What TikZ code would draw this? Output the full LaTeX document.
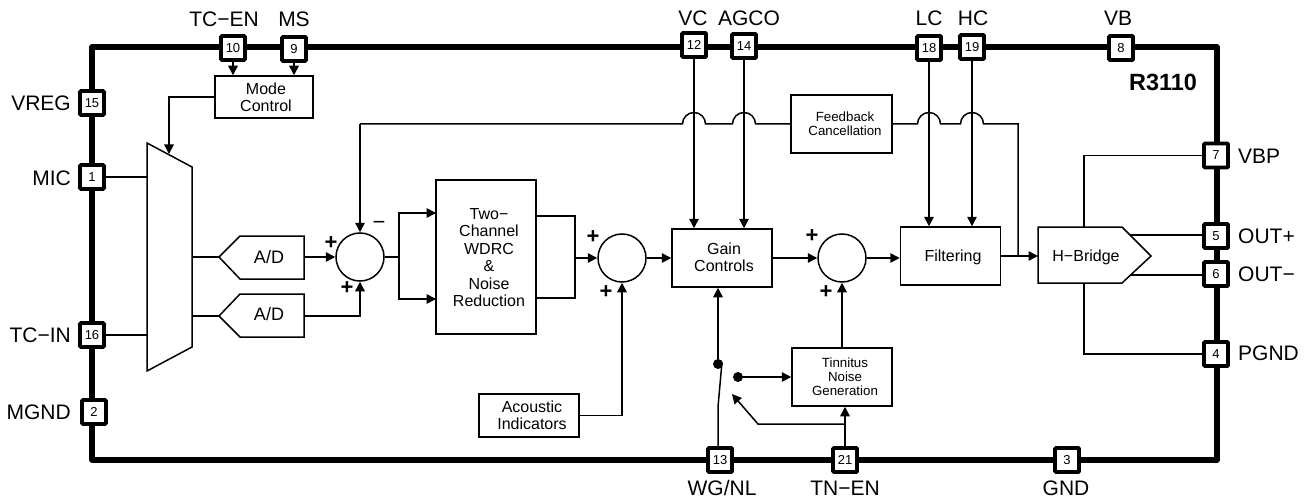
\documentclass[tikz,border=0pt]{standalone}
\usepackage{fontspec}
\setmainfont{Liberation Sans}
\usetikzlibrary{arrows.meta,calc}
\tikzset{
  bus/.style={line width=5.7pt,line join=round},
  pin/.style={draw,fill=white,line width=3.6pt,rounded corners=0.8pt,minimum size=24pt,inner sep=0pt,font=\fontsize{13}{14}\selectfont},
  wire/.style={line width=1.5pt},
  arrowwire/.style={wire,-{Triangle[length=9.5pt,width=9.5pt]}},
  blockbox/.style={draw,line width=1.5pt,fill=white,inner sep=0pt},
  outline/.style={draw,line width=1.5pt,fill=white,line join=miter},
  sumnode/.style={circle,draw,line width=1.5pt,minimum size=48pt,inner sep=0pt},
  plab/.style={font=\fontsize{21}{23}\selectfont,inner sep=0pt},
  txt/.style={font=\fontsize{16}{17.4}\selectfont,align=center,inner sep=0pt},
  smalltxt/.style={font=\fontsize{13.3}{14}\selectfont,align=center,inner sep=0pt},
  sign/.style={font=\bfseries\fontsize{22}{23}\selectfont,inner sep=0pt},
  dot/.style={circle,fill=black,minimum size=10pt,inner sep=0pt},
}
\begin{document}
\begin{tikzpicture}[x=1pt,y=-1pt]
\useasboundingbox (0,0) rectangle (1307,500);
\fill[white] (0,0) rectangle (1307,500);
% outer bus
\coordinate (tl) at (92,47);
\coordinate (tr) at (1217,47);
\coordinate (br) at (1217,460);
\coordinate (bl) at (92,460);
\draw[bus] (tl) -- (tr) -- (br) -- (bl) -- cycle;
% blocks
\node[blockbox,minimum width=98pt,minimum height=42pt] (mode) at (264,97) {};
\node[blockbox,minimum width=100pt,minimum height=154pt] (wdrc) at (486,257) {};
\node[blockbox,minimum width=100pt,minimum height=58pt] (gain) at (722,258) {};
\node[blockbox,minimum width=100pt,minimum height=58pt] (filt) at (950.5,256) {};
\node[blockbox,minimum width=101pt,minimum height=58pt] (fb) at (841.5,124) {};
\node[blockbox,minimum width=100pt,minimum height=58pt] (tinn) at (842,377) {};
\node[blockbox,minimum width=100pt,minimum height=43pt] (acou) at (529,415.5) {};
\node[sumnode] (sumA) at (360,257) {};
\node[sumnode] (sumB) at (622,258) {};
\node[sumnode] (sumC) at (842,258) {};
% polygons
\coordinate (muxA) at (147,143);
\coordinate (muxB) at (192,167);
\coordinate (muxC) at (192,347);
\coordinate (muxD) at (147,371);
\coordinate (muxIn) at (169,154);
\draw[outline] (muxA) -- (muxB) -- (muxC) -- (muxD) -- cycle;
\coordinate (adAt) at (219,257);
\coordinate (adAr) at (304,257);
\draw[outline] (adAt) -- (240,236) -- (304,236) -- (304,279) -- (240,279) -- cycle;
\coordinate (adBt) at (219,316);
\coordinate (adBr) at (304,316);
\draw[outline] (adBt) -- (240,294) -- (304,294) -- (304,337) -- (240,337) -- cycle;
\coordinate (hbL) at (1038,256);
\coordinate (hbT) at (1084,227);
\coordinate (hbB) at (1084,283);
\coordinate (hbPu) at (1130,235);
\coordinate (hbPd) at (1130,275);
\draw[outline] (1038,227) -- (1122,227) -- (1151,256) -- (1122,283) -- (1038,283) -- cycle;
% pins
\foreach \n/\px/\py in {10/233/48,9/294/49,15/92/103,1/92/177,16/92/335,2/94/412,12/694/45,14/744/46,18/929/48,19/972/47,8/1121/48,7/1216/155.5,5/1216/236,6/1216/274,4/1216/354,3/1067/460,13/720/460,21/845/460}
  \node[pin] (p\n) at (\px,\py) {\n};
% pin labels
\node[plab] (lTCEN) at (224,19) {TC−EN};
\node[plab] (lMS) at (294,19) {MS};
\node[plab] (lVC) at (693,18) {VC};
\node[plab] (lAGCO) at (749,18) {AGCO};
\node[plab] (lLC) at (929,18) {LC};
\node[plab] (lHC) at (973,18) {HC};
\node[plab] (lVB) at (1118,18) {VB};
\node[plab,anchor=east] (lVREG) at (71,103) {VREG};
\node[plab,anchor=east] (lMIC) at (71,178) {MIC};
\node[plab,anchor=east] (lTCIN) at (71,335) {TC−IN};
\node[plab,anchor=east] (lMGND) at (71,412) {MGND};
\node[plab,anchor=west] (lVBP) at (1238,156) {VBP};
\node[plab,anchor=west] (lOUTp) at (1238,236) {OUT+};
\node[plab,anchor=west] (lOUTm) at (1238,274) {OUT−};
\node[plab,anchor=west] (lPGND) at (1238,353) {PGND};
\node[plab] (lWG) at (722,488) {WG/NL};
\node[plab] (lTN) at (845,488) {TN−EN};
\node[plab] (lGND) at (1066,488) {GND};
\node[inner sep=0pt,font=\bfseries\fontsize{23.5}{25}\selectfont] (chip) at (1163,82) {R3110};
% block texts
\node[txt] (tMode) at (266,97) {Mode\\Control};
\node[txt] (tWdrc) at (489,257.5) {Two−\\Channel\\WDRC\\\&\\Noise\\Reduction};
\node[txt] (tGain) at (724,257) {Gain\\Controls};
\node[txt] (tFilt) at (953,257) {Filtering};
\node[txt] (tHb) at (1086,257) {H−Bridge};
\node[txt] (tAcou) at (532,415.5) {Acoustic\\Indicators};
\node[smalltxt] (tFb) at (845,124) {Feedback\\Cancellation};
\node[smalltxt] (tTinn) at (845,377) {Tinnitus\\Noise\\Generation};
\node[inner sep=0pt,font=\fontsize{18}{20}\selectfont] (tAdA) at (269,257) {A/D};
\node[inner sep=0pt,font=\fontsize{18}{20}\selectfont] (tAdB) at (269,314) {A/D};
% signs
\node[sign] (sA1) at (331,243) {+};
\node[inner sep=0pt,font=\fontsize{22}{23}\selectfont] (sA2) at (379,225) {−};
\node[sign] (sA3) at (347,288) {+};
\node[sign] (sB1) at (593,237) {+};
\node[sign] (sB2) at (606,292) {+};
\node[sign] (sC1) at (812,236) {+};
\node[sign] (sC2) at (826,292) {+};
% connectors: top pins
\draw[arrowwire] (p10.south) -- (p10 |- mode.north);
\draw[arrowwire] (p9.south) -- (p9 |- mode.north);
\draw[arrowwire] (mode.west) -| (muxIn);
\draw[arrowwire] (p12.south) -- (p12 |- gain.north);
\draw[arrowwire] (p14.south) -- (p14 |- gain.north);
\draw[arrowwire] (p18.south) -- (p18 |- filt.north);
\draw[arrowwire] (p19.south) -- (p19 |- filt.north);
% left pins
\draw[wire] (p1.east) -- (p1 -| muxA);
\draw[wire] (p16.east) -- (p16 -| muxA);
\draw[wire] (adAt -| muxB) -- (adAt);
\draw[wire] (adBt -| muxB) -- (adBt);
% summing
\draw[arrowwire] (adAr) -- (sumA.west);
\draw[arrowwire] (adBr) -| (sumA.south);
\coordinate (splitA) at (399,257);
\coordinate (wdrcU) at (436,213);
\coordinate (wdrcD) at (436,299);
\draw[wire] (sumA.east) -- (splitA);
\draw[arrowwire] (splitA) |- (wdrcU);
\draw[arrowwire] (splitA) |- (wdrcD);
\coordinate (wdrcOU) at (536,216);
\coordinate (wdrcOD) at (536,298);
\coordinate (joinB) at (575,258);
\draw[wire] (wdrcOU) -| (joinB) |- (wdrcOD);
\draw[arrowwire] (joinB) -- (sumB.west);
\draw[arrowwire] (sumB.east) -- (sumB.east -| gain.west);
\draw[arrowwire] (acou.east) -| (sumB.south);
\draw[arrowwire] (gain.east |- sumC) -- (sumC.west);
\draw[arrowwire] (sumC.east) -- (sumC.east -| filt.west);
\draw[arrowwire] (tinn.north -| sumC) -- (sumC.south);
% filtering to H-bridge
\draw[arrowwire] (filt.east) -- (hbL);
\coordinate (fbDown) at (1018,124);
\draw[wire] (fb.east) -- ($(p18 |- fb)+(-11.5,0)$) arc[start angle=180,end angle=0,radius=11.5pt]
  -- ($(p19 |- fb)+(-11.5,0)$) arc[start angle=180,end angle=0,radius=11.5pt]
  -- (fbDown) -- (fbDown |- hbL);
\coordinate (fbOut) at (360,124);
\draw[wire] (fb.west) -- ($(p14 |- fb)+(11.5,0)$) arc[start angle=0,end angle=180,radius=11.5pt]
  -- ($(p12 |- fb)+(11.5,0)$) arc[start angle=0,end angle=180,radius=11.5pt]
  -- (fbOut);
\draw[arrowwire] (fbOut) -- (sumA.north);
% H-bridge pins
\draw[wire] (p7.west) -| (hbT);
\draw[wire] (p4.west) -| (hbB);
\draw[wire] (hbPu) -- (p5.west |- hbPu);
\draw[wire] (hbPd) -- (p6.west |- hbPd);
% switch
\node[dot] (dotA) at (718,364) {};
\node[dot] (dotB) at (738,377) {};
\coordinate (swB) at (718,407);
\coordinate (swT) at (722,362);
\draw[wire] (p13.north -| swB) -- (swB) -- (swT);
\draw[arrowwire] (dotA) -- (dotA |- gain.south);
\draw[arrowwire] (dotB) -- (dotB -| tinn.west);
\coordinate (tnBr) at (845,424);
\coordinate (tnEl) at (758,424);
\coordinate (tnTip) at (732,394);
\draw[arrowwire] (p21.north) -- (p21 |- tinn.south);
\draw[arrowwire] (tnBr) -- (tnEl) -- (tnTip);
\end{tikzpicture}
\end{document}
